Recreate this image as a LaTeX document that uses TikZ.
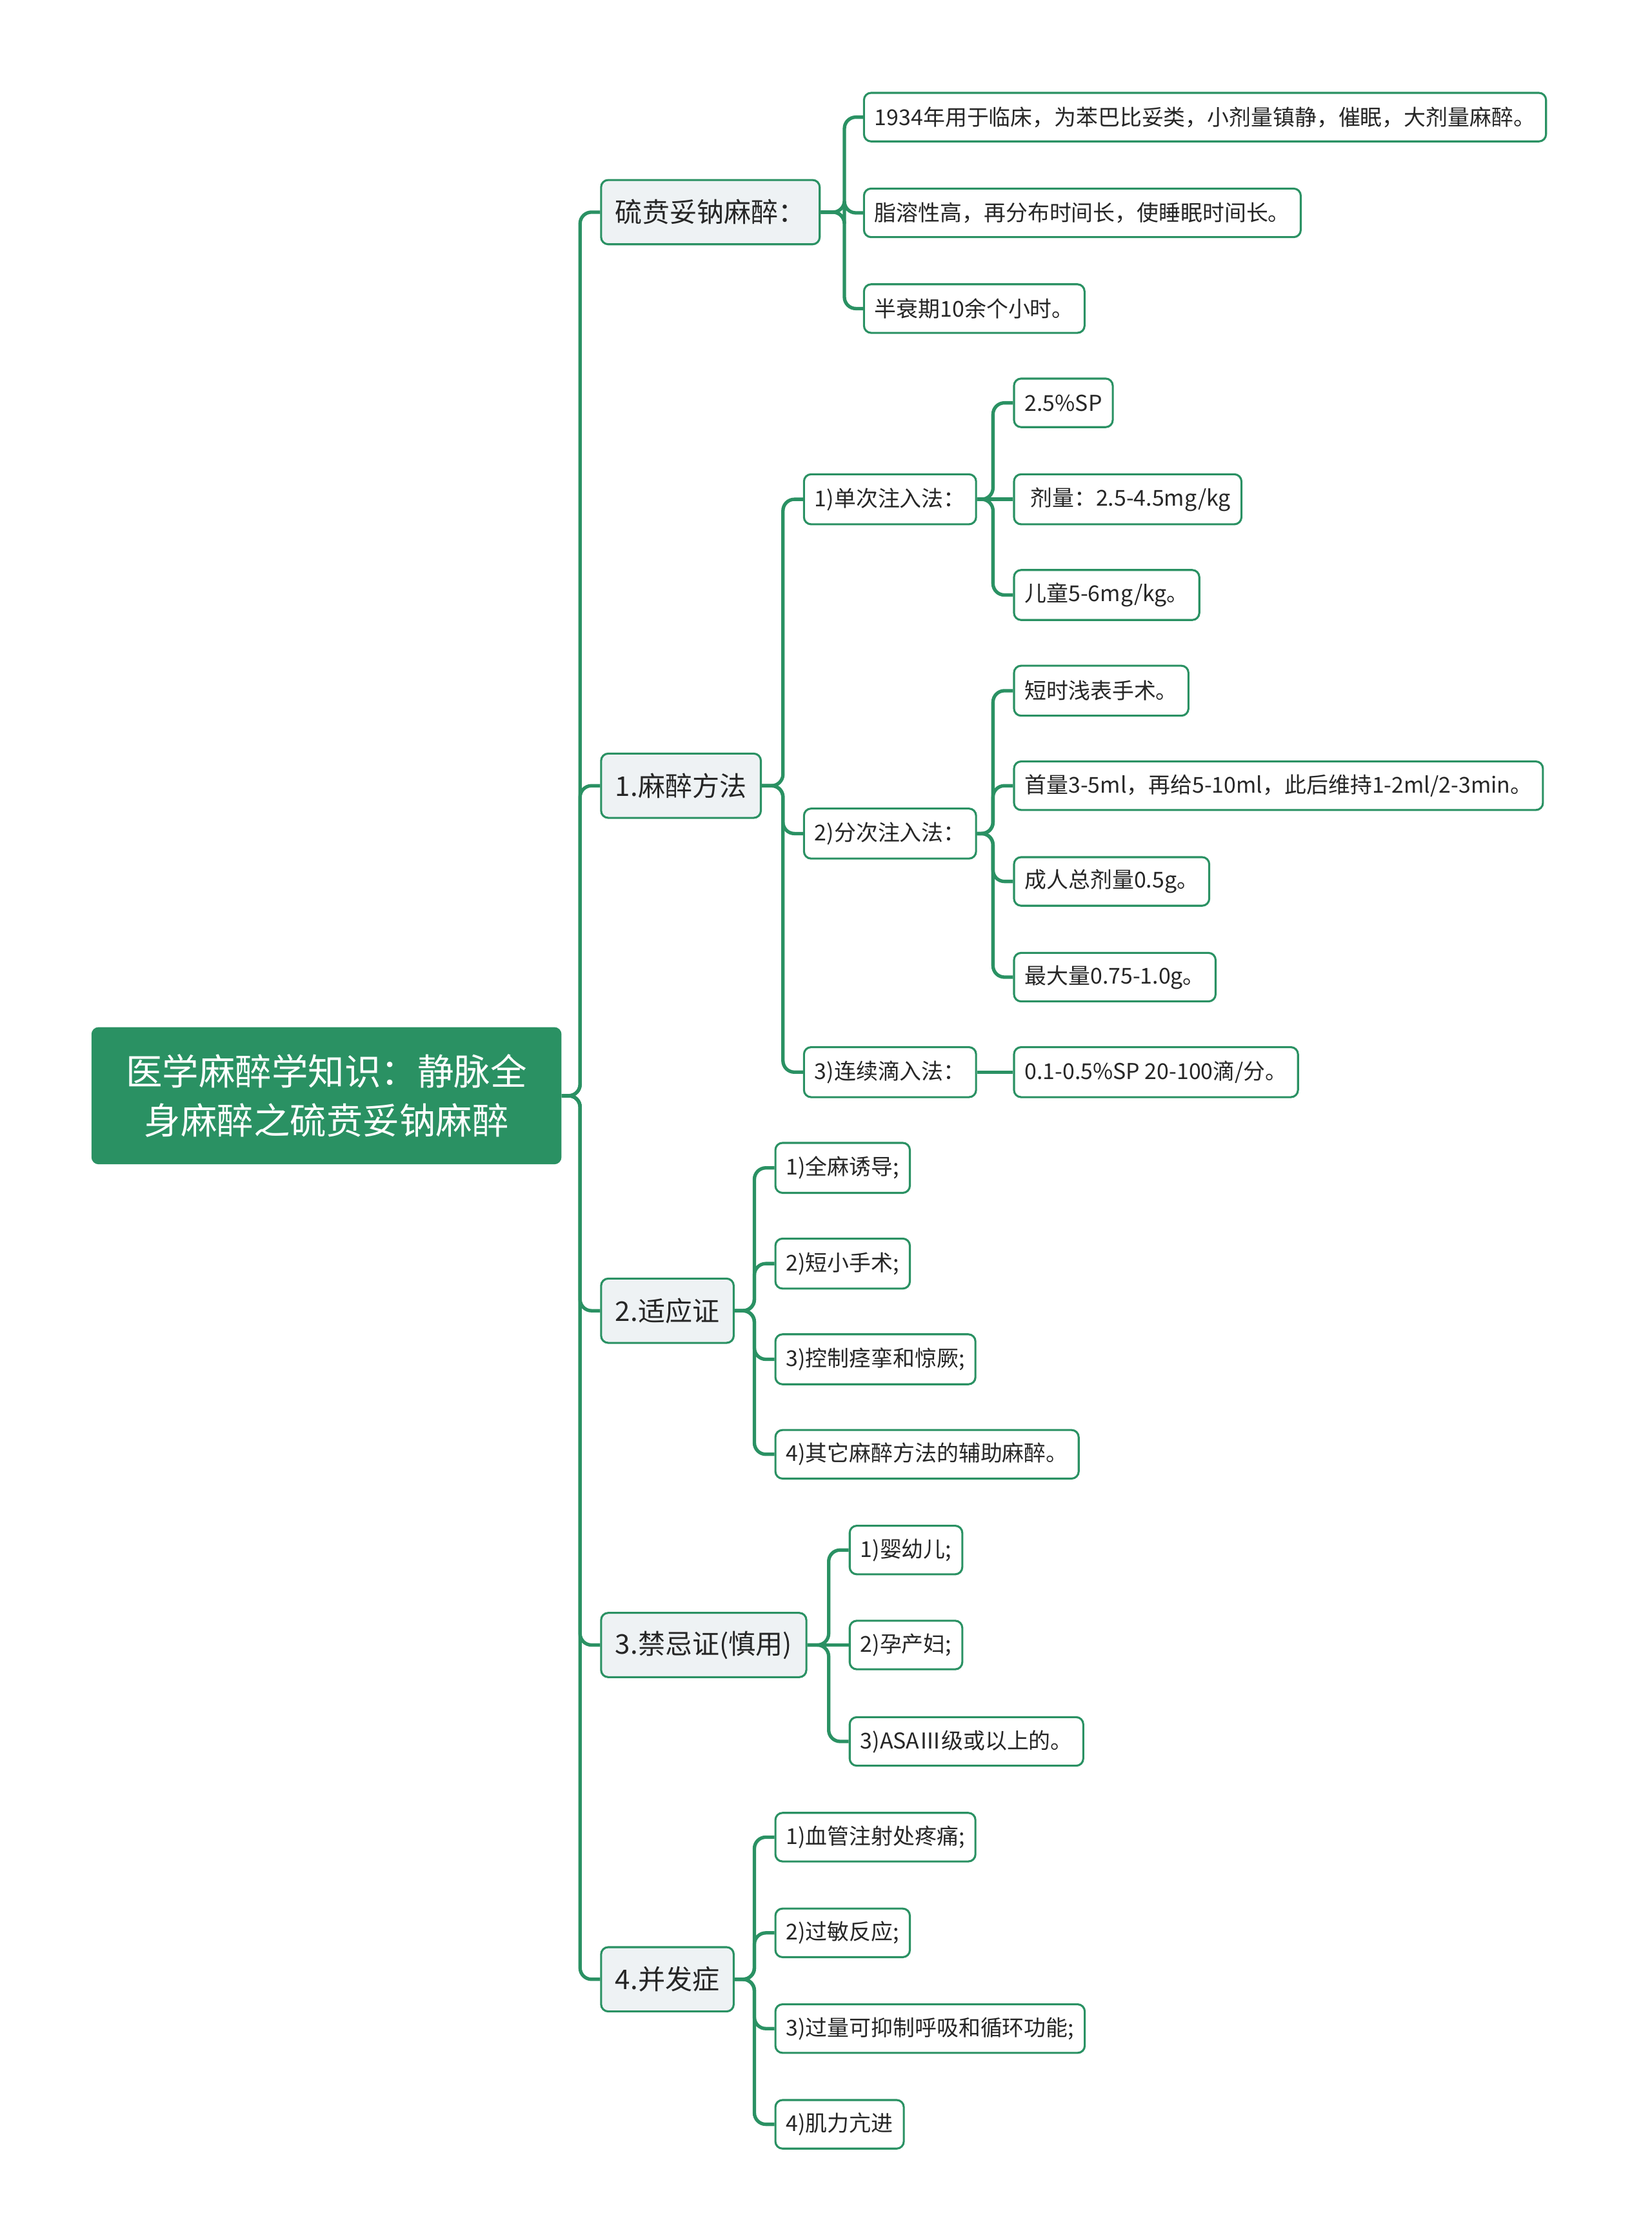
\documentclass[tikz,border=0pt]{standalone}
\usepackage{fontspec}
\setmainfont{Noto Sans CJK SC}
\definecolor{mmgreen}{HTML}{2A9163}
\definecolor{topicgray}{HTML}{EEF2F4}
\begin{document}
\begin{tikzpicture}[x=1pt,y=-1pt,
    rootbox/.style={fill=mmgreen,text=white,rounded corners=5pt,minimum width=329pt,minimum height=96pt,
        align=center,inner sep=0pt,font=\fontsize{25.5}{34}\selectfont},
    topic/.style={draw=mmgreen,fill=topicgray,line width=1.4pt,rounded corners=5pt,minimum height=45pt,
        inner xsep=10pt,anchor=west,text=black!85,font=\fontsize{19}{22}\selectfont},
    leaf/.style={draw=mmgreen,fill=white,line width=1.4pt,rounded corners=5pt,minimum height=34pt,
        inner xsep=7.5pt,anchor=west,text=black!85,font=\fontsize{15.3}{18}\selectfont},
    branch/.style={draw=mmgreen,line width=2.4pt,rounded corners=8pt}]
    \useasboundingbox (0,0) rectangle (1156,1568);
    % root
    \node[rootbox] (root) at (228.5,767) {医学麻醉学知识：静脉全\\身麻醉之硫贲妥钠麻醉};
    % main topics
    \node[topic] (s0) at (420,148.5) {硫贲妥钠麻醉：};
    \node[topic] (s1) at (420,550) {1.麻醉方法};
    \node[topic] (s2) at (420,917.5) {2.适应证};
    \node[topic] (s3) at (420,1151.5) {3.禁忌证(慎用)};
    \node[topic] (s4) at (420,1385.5) {4.并发症};
    % bracket columns
    \coordinate (b0) at (406,0);
    \coordinate (bs0) at (591,0);
    \coordinate (bs1) at (548,0);
    \coordinate (bm1) at (695,0);
    \coordinate (bm2) at (695,0);
    \coordinate (bs2) at (528,0);
    \coordinate (bs3) at (580,0);
    \coordinate (bs4) at (528,0);
    % thiopental
    \node[leaf] (a1) at (604,82) {1934年用于临床，为苯巴比妥类，小剂量镇静，催眠，大剂量麻醉。};
    \node[leaf] (a2) at (604,149) {脂溶性高，再分布时间长，使睡眠时间长。};
    \node[leaf] (a3) at (604,216) {半衰期10余个小时。};
    % methods
    \node[leaf,minimum height=35pt] (m1) at (562,349.5) {1)单次注入法：};
    \node[leaf,minimum height=35pt] (m2) at (562,583.5) {2)分次注入法：};
    \node[leaf,minimum height=35pt] (m3) at (562,750.5) {3)连续滴入法：};
    \node[leaf] (m11) at (709,282) {2.5\%SP};
    \node[leaf,minimum height=35pt] (m12) at (709,349.5) {\hspace{4pt}剂量：2.5-4.5mg/kg};
    \node[leaf,minimum height=35pt] (m13) at (709,416.5) {儿童5-6mg/kg。};
    \node[leaf,minimum height=35pt] (m21) at (709,483.5) {短时浅表手术。};
    \node[leaf] (m22) at (709,550) {首量3-5ml，再给5-10ml，此后维持1-2ml/2-3min。};
    \node[leaf] (m23) at (709,617) {成人总剂量0.5g。};
    \node[leaf] (m24) at (709,684) {最大量0.75-1.0g。};
    \node[leaf,minimum height=35pt] (m31) at (709,750.5) {0.1-0.5\%SP 20-100滴/分。};
    % indications
    \node[leaf,minimum height=35pt] (i1) at (542,817.5) {1)全麻诱导;};
    \node[leaf,minimum height=35pt] (i2) at (542,884.5) {2)短小手术;};
    \node[leaf,minimum height=35pt] (i3) at (542,951.5) {3)控制痉挛和惊厥;};
    \node[leaf] (i4) at (542,1018) {4)其它麻醉方法的辅助麻醉。};
    % contraindications
    \node[leaf] (c1) at (594,1085) {1)婴幼儿;};
    \node[leaf] (c2) at (594,1151.5) {2)孕产妇;};
    \node[leaf] (c3) at (594,1219) {3)ASAⅢ级或以上的。};
    % complications
    \node[leaf] (x1) at (542,1286) {1)血管注射处疼痛;};
    \node[leaf] (x2) at (542,1353) {2)过敏反应;};
    \node[leaf] (x3) at (542,1420) {3)过量可抑制呼吸和循环功能;};
    \node[leaf] (x4) at (542,1487) {4)肌力亢进};
    % connectors
    \foreach \c in {s0,s1,s2,s3,s4}
        \draw[branch] (root.east) -- (root.east -| b0) |- (\c.west);
    \foreach \c in {a1,a2,a3}
        \draw[branch] (s0.east) -- (s0.east -| bs0) |- (\c.west);
    \foreach \c in {m1,m2,m3}
        \draw[branch] (s1.east) -- (s1.east -| bs1) |- (\c.west);
    \foreach \c in {m11,m13}
        \draw[branch] (m1.east) -- (m1.east -| bm1) |- (\c.west);
    \draw[branch] (m1.east) -- (m12.west);
    \foreach \c in {m21,m22,m23,m24}
        \draw[branch] (m2.east) -- (m2.east -| bm2) |- (\c.west);
    \draw[branch] (m3.east) -- (m31.west);
    \foreach \c in {i1,i2,i3,i4}
        \draw[branch] (s2.east) -- (s2.east -| bs2) |- (\c.west);
    \foreach \c in {c1,c3}
        \draw[branch] (s3.east) -- (s3.east -| bs3) |- (\c.west);
    \draw[branch] (s3.east) -- (c2.west);
    \foreach \c in {x1,x2,x3,x4}
        \draw[branch] (s4.east) -- (s4.east -| bs4) |- (\c.west);
\end{tikzpicture}
\end{document}
